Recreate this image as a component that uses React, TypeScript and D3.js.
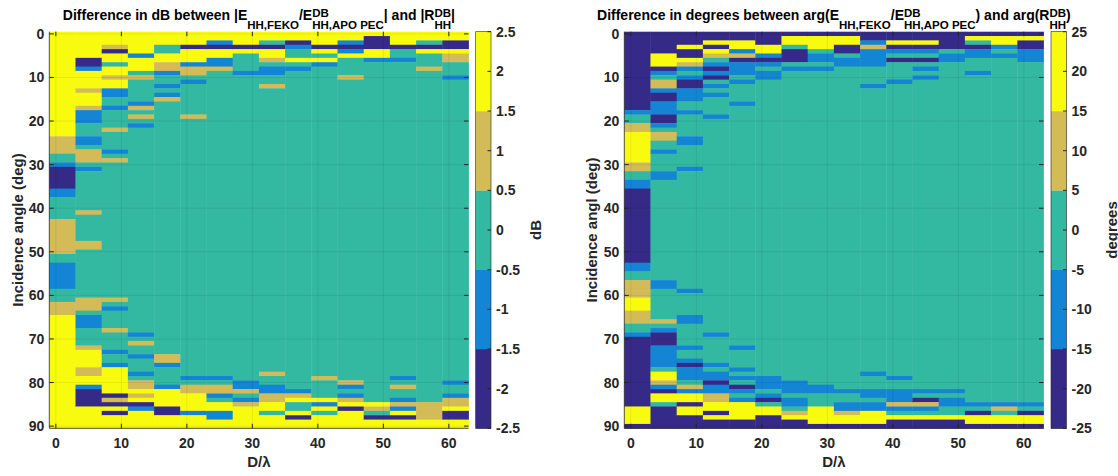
import React, { useEffect, useRef } from 'react';
import * as d3 from 'd3';

// column centres (D/lambda), one column of cells per value
const dOverLambda = [1, 5, 9, 13, 17, 21, 25, 29, 33, 37, 41, 45, 49, 53, 57, 61];
// incidence angles 0..90 deg, one row per degree
const angles = d3.range(0, 91);

const xTicks = [0, 10, 20, 30, 40, 50, 60];
const yTicks = [0, 10, 20, 30, 40, 50, 60, 70, 80, 90];
const dbTicks = [-2.5, -2, -1.5, -1, -0.5, 0, 0.5, 1, 1.5, 2, 2.5];
const degTicks = [-25, -20, -15, -10, -5, 0, 5, 10, 15, 20, 25];

// level codes: N B G T Y  ->  value per code
const dbLevel: Record<string, number> = { N: -2, B: -1, G: 0, T: 1, Y: 2 };
const degLevel: Record<string, number> = { N: -20, B: -10, G: 0, T: 10, Y: 20 };

const colors = ['#352a87', '#1484d4', '#33b8a1', '#d3bb58', '#f9fb0e'];

// each column: "code startRow" runs, a run lasts until the next one starts
const dbColumns = [
  'Y0 T24 G28 B30 N31 B36 G38 T43 G51 B53 G59 T62 Y65',
  'Y0 N6 B8 Y9 T13 Y14 T17 B18 G21 B24 G26 T27 G30 B31 G32 T41 G42 T48 G50 T61 G64 B65 G68 T72 Y73 T77 Y79 B81 N82 Y86',
  'Y0 T3 N4 Y5 G7 Y8 T10 Y11 B13 G15 B17 G18 T22 G23 B27 G28 T29 G30 T61 G62 B63 G64 T68 G69 B73 G74 B76 Y77 N83 T84 N85 Y86 N87 Y88',
  'Y0 B5 Y6 G9 T10 G11 B16 T17 G18 T19 G20 B21 G22 B69 G70 T71 G72 B74 G75 B78 G79 T80 Y82 T83 Y84 N85 B86 Y87',
  'Y0 G3 Y5 T7 B9 G10 B12 G13 B14 T15 G16 T74 B76 G77 B81 Y82 N86 Y88',
  'Y0 N3 Y4 B7 T8 G10 B11 G12 T19 G20 B79 G80 T81 Y83 B87 Y88',
  'Y0 B2 N3 Y4 B6 T8 G9 B79 G80 T81 B83 G84 Y85 B87 Y89',
  'Y0 N3 Y4 G5 B9 G10 B80 T82 G83 B84 T85 Y86',
  'Y0 G2 N3 Y4 T6 G7 B8 G10 T12 G13 T78 G79 B81 T83 Y85 G87 Y88',
  'Y0 N2 B3 G4 Y6 G7 B8 G9 B82 T83 Y84 G85 Y87 N88 Y89',
  'Y0 N3 Y4 G5 Y6 B7 G8 T79 G80 Y84 B85 Y86 G87 Y88',
  'Y0 B2 N3 B4 Y5 G6 T10 G11 T80 B81 G82 B83 T84 Y85 N86 Y87',
  'Y0 N1 Y4 B6 G7 Y85 T86 G87 N88 Y89',
  'Y0 N3 G4 B6 G7 B79 G80 T81 G82 B84 T85 B86 Y87 N88 Y89',
  'Y0 G2 N3 Y4 G5 T8 G9 T85 Y89',
  'Y0 N2 Y4 T5 G7 B10 G11 B80 G81 B83 T84 Y86 N87 Y89',
];

const degColumns = [
  'N0 B18 G19 T21 Y23 T30 G32 B34 N36 B53 G55 T57 Y61 T64 G67 B69 N70 Y86 N90',
  'N0 Y5 N8 B9 G10 T11 B13 N14 B16 N19 B21 G22 T23 G25 B27 G28 B32 G34 B57 G59 T66 G67 B68 N69 B72 G77 Y78 T80 B81 N82 Y83 G85 N86',
  'N0 Y3 N4 Y6 T7 B8 G9 B10 N11 B13 G16 B18 G19 B24 G26 B31 G32 B59 G60 B65 G67 B72 G73 B75 N76 B77 G80 T81 B82 Y83 N85 Y86 N88',
  'N0 Y2 N3 Y4 T5 G6 B7 N8 B9 N10 G11 B12 G13 B14 G15 B19 G20 B69 G70 B76 G77 B78 N80 B81 T83 Y85 N87 Y88 N89',
  'N0 Y2 B4 T5 N6 B7 G10 B11 G12 B16 G17 B72 G73 B77 G78 B79 G80 N81 B82 G83 B84 Y85 N89',
  'N0 Y3 B5 N6 B7 G8 B9 G11 B79 G82 B83 N84 G85 Y86 N88',
  'N0 Y1 G3 N4 G7 B8 G9 B80 G83 B84 G86 T87 Y88 N89',
  'N0 Y1 G4 B5 G7 B8 G9 B81 G83 Y86 N90',
  'N0 Y1 N3 G5 B6 G8 B82 G83 B85 T87 Y88 N90',
  'N0 B2 T3 B4 G8 B12 G13 B78 G79 B82 G84 B85 Y87 N90',
  'N0 Y2 N3 B4 G5 N6 G7 B11 G12 B79 G80 B82 T85 B86 G87 Y88 N89',
  'N0 Y2 N3 B4 G5 N6 G7 B8 G9 B10 G11 B82 G83 N84 T85 B86 G87 Y88 N89',
  'N0 G4 B5 G7 B82 G83 B84 G86 Y88 N89',
  'N0 Y1 G2 N3 B4 G6 B9 G10 B85 G86 N87 Y88 N90',
  'N0 Y1 B3 G4 B5 G6 B85 T86 G87 Y88 N90',
  'N0 Y1 N2 B4 G7 B85 G86 N87 Y88 N90',
];

type Part = { t?: string; sup?: string; sub?: string };

const dbTitle: Part[] = [
  { t: 'Difference in dB between |E' }, { sub: 'HH,FEKO' }, { t: '/E' },
  { sup: 'DB', sub: 'HH,APO PEC' }, { t: '| and |R' }, { sup: 'DB', sub: 'HH' }, { t: '|' },
];
const degTitle: Part[] = [
  { t: 'Difference in degrees between arg(E' }, { sub: 'HH,FEKO' }, { t: '/E' },
  { sup: 'DB', sub: 'HH,APO PEC' }, { t: ') and arg(R' }, { sup: 'DB', sub: 'HH' }, { t: ')' },
];

const FONT = '"Liberation Sans", Arial, Helvetica, sans-serif';

// turn "Y0 T24 ..." into runs of rows with one value
function expand(runs: string, levels: Record<string, number>) {
  const segs = runs.split(' ').map(s => ({ code: s[0], start: +s.slice(1) }));
  return segs.map((s, i) => ({
    value: levels[s.code],
    start: s.start,
    end: i < segs.length - 1 ? segs[i + 1].start - 1 : angles[angles.length - 1],
  }));
}

// one <text> with tspans; superscripts stacked over their subscript afterwards
function richTitle(g: any, parts: Part[], cx: number, y: number) {
  const tg = g.append('g').style('font-family', FONT).style('font-weight', 'bold').style('fill', '#000');
  const text = tg.append('text').attr('x', cx).attr('y', y).attr('text-anchor', 'middle').style('font-size', '14px');
  let idx = 0;
  let low = false;
  const sups: { idx: number; s: string }[] = [];
  parts.forEach(p => {
    if (p.t) {
      text.append('tspan').attr('dy', low ? -8.5 : 0).text(p.t);
      low = false;
      idx += p.t.length;
    } else if (p.sub) {
      if (p.sup) sups.push({ idx, s: p.sup });
      text.append('tspan').attr('dy', low ? 0 : 8.5).style('font-size', '11.5px').text(p.sub);
      low = true;
      idx += p.sub.length;
    }
  });
  const node = text.node();
  sups.forEach(s => {
    const px = node.getStartPositionOfChar(s.idx).x;
    tg.append('text').attr('x', px).attr('y', y - 3.5).style('font-size', '11.5px').text(s.s);
  });
}

function drawPanel(svg: any, opt: any) {
  const { left, right, top, bottom, columns, levels, thresholds, cbLeft, cbRight, cbDomain, cbTicks, cbLabel, cbLabelX, yLabel, yLabelX, title } = opt;

  const x = d3.scaleLinear().domain([-1, 63]).range([left, right]);
  const y = d3.scaleLinear().domain([-0.5, 90.5]).range([top, bottom]);
  const color = d3.scaleThreshold<number, string>().domain(thresholds).range(colors);

  const g = svg.append('g');

  columns.forEach((runs: string, i: number) => {
    const d = dOverLambda[i];
    expand(runs, levels).forEach(r => {
      g.append('rect')
        .attr('x', x(d - 2))
        .attr('width', x(d + 2) - x(d - 2) + 0.4)
        .attr('y', y(r.start - 0.5))
        .attr('height', y(r.end + 0.5) - y(r.start - 0.5) + 0.4)
        .attr('fill', color(r.value));
    });
  });

  // grid
  xTicks.forEach(t => {
    g.append('line').attr('x1', x(t)).attr('x2', x(t)).attr('y1', top).attr('y2', bottom)
      .attr('stroke', '#000').attr('stroke-opacity', 0.09).attr('stroke-width', 0.8);
  });
  yTicks.forEach(t => {
    g.append('line').attr('x1', left).attr('x2', right).attr('y1', y(t)).attr('y2', y(t))
      .attr('stroke', '#000').attr('stroke-opacity', 0.09).attr('stroke-width', 0.8);
  });

  // inward ticks on all sides
  const tk = 4.5;
  xTicks.forEach(t => {
    g.append('line').attr('x1', x(t)).attr('x2', x(t)).attr('y1', bottom).attr('y2', bottom - tk).attr('stroke', '#262626');
    g.append('line').attr('x1', x(t)).attr('x2', x(t)).attr('y1', top).attr('y2', top + tk).attr('stroke', '#262626');
  });
  yTicks.forEach(t => {
    g.append('line').attr('x1', left).attr('x2', left + tk).attr('y1', y(t)).attr('y2', y(t)).attr('stroke', '#262626');
    g.append('line').attr('x1', right).attr('x2', right - tk).attr('y1', y(t)).attr('y2', y(t)).attr('stroke', '#262626');
  });
  g.append('line').attr('x1', left).attr('x2', left).attr('y1', top).attr('y2', bottom).attr('stroke', '#262626').attr('stroke-width', 0.8);
  g.append('line').attr('x1', left).attr('x2', right).attr('y1', bottom).attr('y2', bottom).attr('stroke', '#262626').attr('stroke-width', 0.8);

  const txt = g.append('g').style('font-family', FONT).style('font-weight', 'bold').style('font-size', '14px').style('fill', '#262626');

  xTicks.forEach(t => {
    txt.append('text').attr('x', x(t)).attr('y', bottom + 20).attr('text-anchor', 'middle').text(t);
  });
  yTicks.forEach(t => {
    txt.append('text').attr('x', left - 5).attr('y', y(t)).attr('text-anchor', 'end')
      .attr('dominant-baseline', 'central').text(t);
  });

  txt.append('text').attr('x', (left + right) / 2).attr('y', bottom + 39).attr('text-anchor', 'middle')
    .style('font-size', '15px').text('D/\u03bb');
  txt.append('text').attr('transform', `translate(${yLabelX},${(top + bottom) / 2}) rotate(-90)`)
    .attr('text-anchor', 'middle').attr('dominant-baseline', 'central').style('font-size', '15px').text(yLabel);

  // colorbar
  const cy = d3.scaleLinear().domain(cbDomain).range([bottom, top]);
  const step = (cbDomain[1] - cbDomain[0]) / colors.length;
  colors.forEach((_, i) => {
    const lo = cbDomain[0] + i * step;
    g.append('rect').attr('x', cbLeft).attr('width', cbRight - cbLeft)
      .attr('y', cy(lo + step)).attr('height', cy(lo) - cy(lo + step) + 0.3).attr('fill', color(lo + step / 2));
  });
  g.append('rect').attr('x', cbLeft).attr('width', cbRight - cbLeft).attr('y', top).attr('height', bottom - top)
    .attr('fill', 'none').attr('stroke', '#262626').attr('stroke-width', 0.6);
  cbTicks.forEach((t: number) => {
    g.append('line').attr('x1', cbRight - 3.5).attr('x2', cbRight).attr('y1', cy(t)).attr('y2', cy(t)).attr('stroke', '#262626');
    txt.append('text').attr('x', cbRight + 5).attr('y', cy(t)).attr('dominant-baseline', 'central').text(t);
  });
  txt.append('text').attr('transform', `translate(${cbLabelX},${(top + bottom) / 2}) rotate(-90)`)
    .attr('text-anchor', 'middle').attr('dominant-baseline', 'central').style('font-size', '15px').text(cbLabel);

  richTitle(svg, title, (left + right) / 2, 20);
}

export default function App() {
  const ref = useRef<SVGSVGElement>(null);

  useEffect(() => {
    const svg = d3.select(ref.current);
    svg.selectAll('*').remove();

    drawPanel(svg, {
      left: 49.3, right: 468.5, top: 31.7, bottom: 428.3,
      columns: dbColumns, levels: dbLevel, thresholds: [-1.5, -0.5, 0.5, 1.5],
      cbLeft: 475.7, cbRight: 491, cbDomain: [-2.5, 2.5], cbTicks: dbTicks,
      cbLabel: 'dB', cbLabelX: 535, yLabel: 'Incidence angle (deg)', yLabelX: 17, title: dbTitle,
    });

    drawPanel(svg, {
      left: 624.3, right: 1043.5, top: 31.7, bottom: 428.3,
      columns: degColumns, levels: degLevel, thresholds: [-15, -5, 5, 15],
      cbLeft: 1051, cbRight: 1066.5, cbDomain: [-25, 25], cbTicks: degTicks,
      cbLabel: 'degrees', cbLabelX: 1111, yLabel: 'Incidence angl (deg)', yLabelX: 591, title: degTitle,
    });
  }, []);

  return (
    <svg ref={ref} width={1118} height={476}
      style={{ position: 'absolute', left: 0, top: 0, background: '#fff' }} />
  );
}
